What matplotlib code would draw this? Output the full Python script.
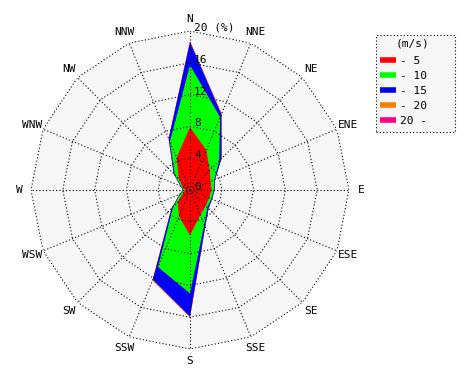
import numpy as np
import matplotlib
matplotlib.use("Agg")
import matplotlib.pyplot as plt
from matplotlib.lines import Line2D
from matplotlib.patches import Rectangle

directions = ["N", "NNE", "NE", "ENE", "E", "ESE", "SE", "SSE",
              "S", "SSW", "SW", "WSW", "W", "WNW", "NW", "NNW"]
# frequency (%) per speed class
spd_0_5 = [7.9, 5.4, 3.5, 2.8, 2.7, 2.6, 2.8, 3.4, 5.7, 3.6, 2.2, 0.9, 0.6, 1.0, 2.0, 4.4]
spd_5_10 = [7.8, 4.5, 1.7, 0.5, 0.3, 0.3, 0.3, 1.3, 7.3, 6.9, 0.8, 0.4, 0.2, 0.2, 0.7, 2.2]
spd_10_15 = [2.9, 0.4, 0.4, 0.1, 0.1, 0.1, 0.2, 0.3, 2.9, 1.7, 0.3, 0.1, 0.1, 0.1, 0.2, 0.4]
spd_15_20 = [0.1, 0.1, 0.0, 0.0, 0.0, 0.0, 0.0, 0.0, 0.1, 0.1, 0.0, 0.0, 0.0, 0.0, 0.0, 0.0]
spd_20p = [0.0] * 16
class_labels = ["- 5", "- 10", "- 15", "- 20", "20 -"]
class_colors = ["#ff0000", "#00ff00", "#0000ff", "#ff8000", "#ff0080"]
ring_values = [4, 8, 12, 16, 20]
rmax = 20

FONT = "DejaVu Sans Mono"
W, H = 470, 380

fig = plt.figure(figsize=(4.7, 3.8), dpi=100)
ax = fig.add_axes([31 / W, 1 - 349 / H, 318 / W, 318 / H], projection="polar")
ax.set_theta_zero_location("N")
ax.set_theta_direction(-1)
ax.set_ylim(0, rmax)
ax.grid(False)
ax.set_xticks([])
ax.set_yticks([])
ax.spines["polar"].set_visible(False)
ax.patch.set_alpha(0)

n = len(directions)
theta = np.arange(n) * 2 * np.pi / n
theta_c = np.append(theta, theta[0])

# background polygon
ax.fill(theta_c, np.full(n + 1, rmax), color="#f6f6f6", lw=0, zorder=0)

series = [spd_0_5, spd_5_10, spd_10_15, spd_15_20, spd_20p]
cum = np.cumsum(np.array(series), axis=0)
for i in range(len(series) - 1, -1, -1):
    r = np.append(cum[i], cum[i][0])
    ax.fill(theta_c, r, color=class_colors[i], lw=0, zorder=2 + (len(series) - i))

dot = dict(color="black", lw=0.8, ls=(0, (1, 2)), zorder=10)
for rv in ring_values:
    ax.plot(theta_c, np.full(n + 1, rv), **dot)
for t in theta:
    ax.plot([t, t], [0, rmax], **dot)

for t, d in zip(theta, directions):
    ax.text(t, 21.5, d, ha="center", va="center", fontsize=8, family=FONT)

for rv in ring_values[:-1]:
    ax.annotate(str(rv), xy=(0, rv), xytext=(4, 3), textcoords="offset pixels",
                ha="left", va="center", fontsize=8, family=FONT, zorder=11)
ax.annotate("20 (%)", xy=(0, rmax), xytext=(4, 3), textcoords="offset pixels",
            ha="left", va="center", fontsize=8, family=FONT, zorder=11)
ax.annotate("0", xy=(0, 0), xytext=(4, 3), textcoords="offset pixels",
            ha="left", va="center", fontsize=8, family=FONT, zorder=11)

# legend box
box = Rectangle((376 / W, 1 - 132 / H), 79 / W, 97 / H, transform=fig.transFigure,
                facecolor="#f6f6f6", edgecolor="black", lw=0.8, ls=(0, (1, 2)),
                zorder=0)
fig.patches.append(box)
fig.text(412 / W, 1 - 43 / H, "(m/s)", ha="center", va="center",
         fontsize=8, family=FONT)

handles = [Line2D([0], [0], color=c, lw=4.0, solid_capstyle="butt") for c in class_colors]
leg = fig.legend(handles, class_labels, loc="upper left",
                 bbox_to_anchor=(378 / W, 1 - 54 / H),
                 prop={"family": FONT, "size": 8},
                 handlelength=1.45, handletextpad=0.35, labelspacing=0.45,
                 borderpad=0.2, frameon=False, borderaxespad=0)

fig.savefig("out.png", dpi=100)
